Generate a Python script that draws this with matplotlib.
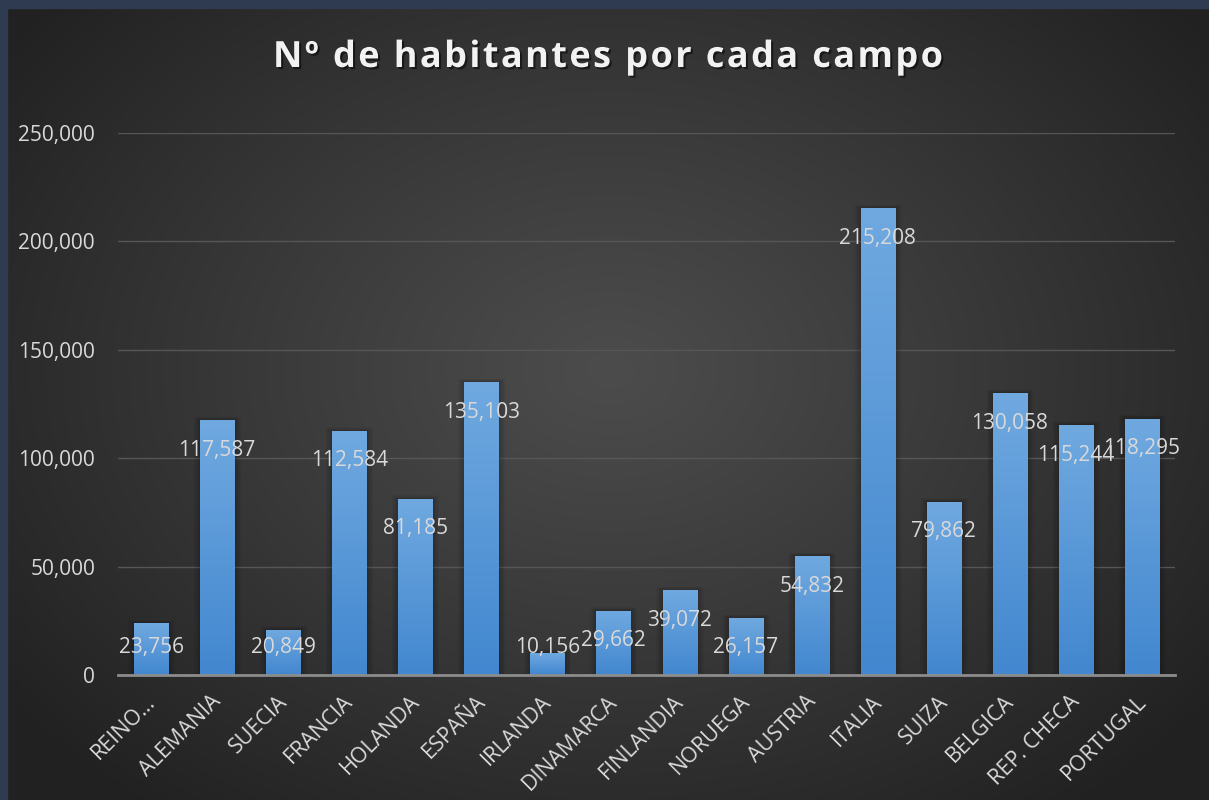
import matplotlib
matplotlib.use("Agg")
import matplotlib.pyplot as plt
import matplotlib.patheffects as pe
from matplotlib.patches import Rectangle
from matplotlib.colors import LinearSegmentedColormap
from matplotlib.ticker import FuncFormatter
from matplotlib.font_manager import FontProperties, findfont
from matplotlib.ft2font import FT2Font
import matplotlib.transforms as mtransforms
import numpy as np

# data
paises = ["REINO…", "ALEMANIA", "SUECIA", "FRANCIA", "HOLANDA", "ESPAÑA",
          "IRLANDA", "DINAMARCA", "FINLANDIA", "NORUEGA", "AUSTRIA", "ITALIA",
          "SUIZA", "BELGICA", "REP. CHECA", "PORTUGAL"]
habitantes = [23756, 117587, 20849, 112584, 81185, 135103, 10156, 29662,
              39072, 26157, 54832, 215208, 79862, 130058, 115244, 118295]
titulo = "Nº de habitantes por cada campo"

plt.rcParams['font.family'] = ['Open Sans', 'DejaVu Sans']

W, H = 1209, 800
fig = plt.figure(figsize=(W / 100, H / 100), dpi=100)

# radial grey background
bg = fig.add_axes([0, 0, 1, 1], zorder=-10)
yy, xx = np.mgrid[0:H, 0:W]
r = np.sqrt(((xx - 610) / 760.0) ** 2 + ((yy - 370) / 560.0) ** 2)
r = np.clip(r, 0, 1) ** 1.1
c_in = np.array([0x4c, 0x4c, 0x4c]) / 255
c_out = np.array([0x21, 0x21, 0x21]) / 255
img = c_in[None, None, :] + (c_out - c_in)[None, None, :] * r[:, :, None]
bg.imshow(img, extent=[0, 1, 0, 1], aspect='auto', origin='upper')
bg.set_xlim(0, 1)
bg.set_ylim(0, 1)
bg.axis('off')

# frame bands (top and left)
fig.patches.append(Rectangle((0, 1 - 8 / H), 1, 8 / H, transform=fig.transFigure,
                             color='#2f3b50', zorder=5))
fig.patches.append(Rectangle((0, 0), 7 / W, 1, transform=fig.transFigure,
                             color='#2f3b50', zorder=5))

ax = fig.add_axes([118 / W, 1 - 675 / H, (1175 - 118) / W, (675 - 133) / H])
ax.set_facecolor('none')
ymax = 250000
px = ymax / (675 - 133)        # data units per pixel (vertical)
dx = 1 / 66.0                  # category units per pixel (horizontal)

x = np.arange(len(paises))
bars = ax.bar(x, habitantes, width=0.515, color='#4a8cd0', zorder=3)

# soft shadow around bars
for b in bars:
    x0, w, h = b.get_x(), b.get_width(), b.get_height()
    for k in range(1, 6):
        ax.add_patch(Rectangle((x0 - (k - 0.5) * 1.4 * dx, 0), w + (2 * k - 0.5) * 1.4 * dx,
                               h + k * 0.7 * px, color='black', alpha=0.045,
                               lw=0, zorder=2.5))

# vertical gradient inside each bar
cmap = LinearSegmentedColormap.from_list('azul', ['#4287cf', '#70a9e0'])
grad = np.linspace(0, 1, 256).reshape(-1, 1)
for b in bars:
    x0, w, h = b.get_x(), b.get_width(), b.get_height()
    im = ax.imshow(grad, cmap=cmap, extent=[x0, x0 + w, 0, h], origin='lower',
                   aspect='auto', zorder=3.5)
    im.set_clip_path(b)

ax.set_xlim(-0.5, len(paises) - 0.5)
ax.set_ylim(0, ymax)
ax.set_yticks(np.arange(0, ymax + 1, 50000))
ax.yaxis.set_major_formatter(FuncFormatter(lambda v, p: f"{int(v):,}"))
ax.grid(axis='y', color='#565656', linewidth=1, zorder=0)
ax.set_axisbelow(True)
for s in ['top', 'right', 'left']:
    ax.spines[s].set_visible(False)
ax.spines['bottom'].set_color('#8c8c8c')
ax.spines['bottom'].set_linewidth(2)
ax.spines['bottom'].set_zorder(4)

ax.tick_params(axis='y', length=0, pad=16.5, labelsize=15, labelcolor='#d9d9d9')
ax.tick_params(axis='x', length=0, pad=17, labelsize=15.5, labelcolor='#d9d9d9')
ax.set_xticks(x)
ax.set_xticklabels(paises, rotation=45, ha='right', va='center', rotation_mode='anchor')
off = mtransforms.ScaledTranslation(1 / 100, 0, fig.dpi_scale_trans)
for lbl in ax.get_xticklabels():
    lbl.set_transform(lbl.get_transform() + off)

# data labels at inside end (kept above the axis for short bars)
for xi, v in zip(x, habitantes):
    ylab = max(v - 30 * px, 27 * px)
    ax.text(xi, ylab, f"{v:,}", ha='center', va='center', fontsize=15,
            color='#d9d9d9', zorder=6)

# title with letter spacing
tsize = 26
spacing = 2.4  # px between letters
fpath = findfont(FontProperties(family='Open Sans', weight='bold'))
ft = FT2Font(fpath)
ft.set_size(tsize, 100)
adv = [ft.load_char(ord(c)).linearHoriAdvance / 65536.0 for c in titulo]
total = sum(adv) + spacing * (len(titulo) - 1)
xc = 608
xpos = xc - total / 2
for c, a in zip(titulo, adv):
    if c != ' ':
        fig.text(xpos / W, 1 - 58 / H, c, ha='left', va='center', fontsize=tsize,
                 fontweight='bold', color='#f2f2f2',
                 path_effects=[pe.withSimplePatchShadow(offset=(1.5, -1.5),
                                                        shadow_rgbFace='black', alpha=0.5)])
    xpos += a + spacing

fig.savefig('out.png', dpi=100)
